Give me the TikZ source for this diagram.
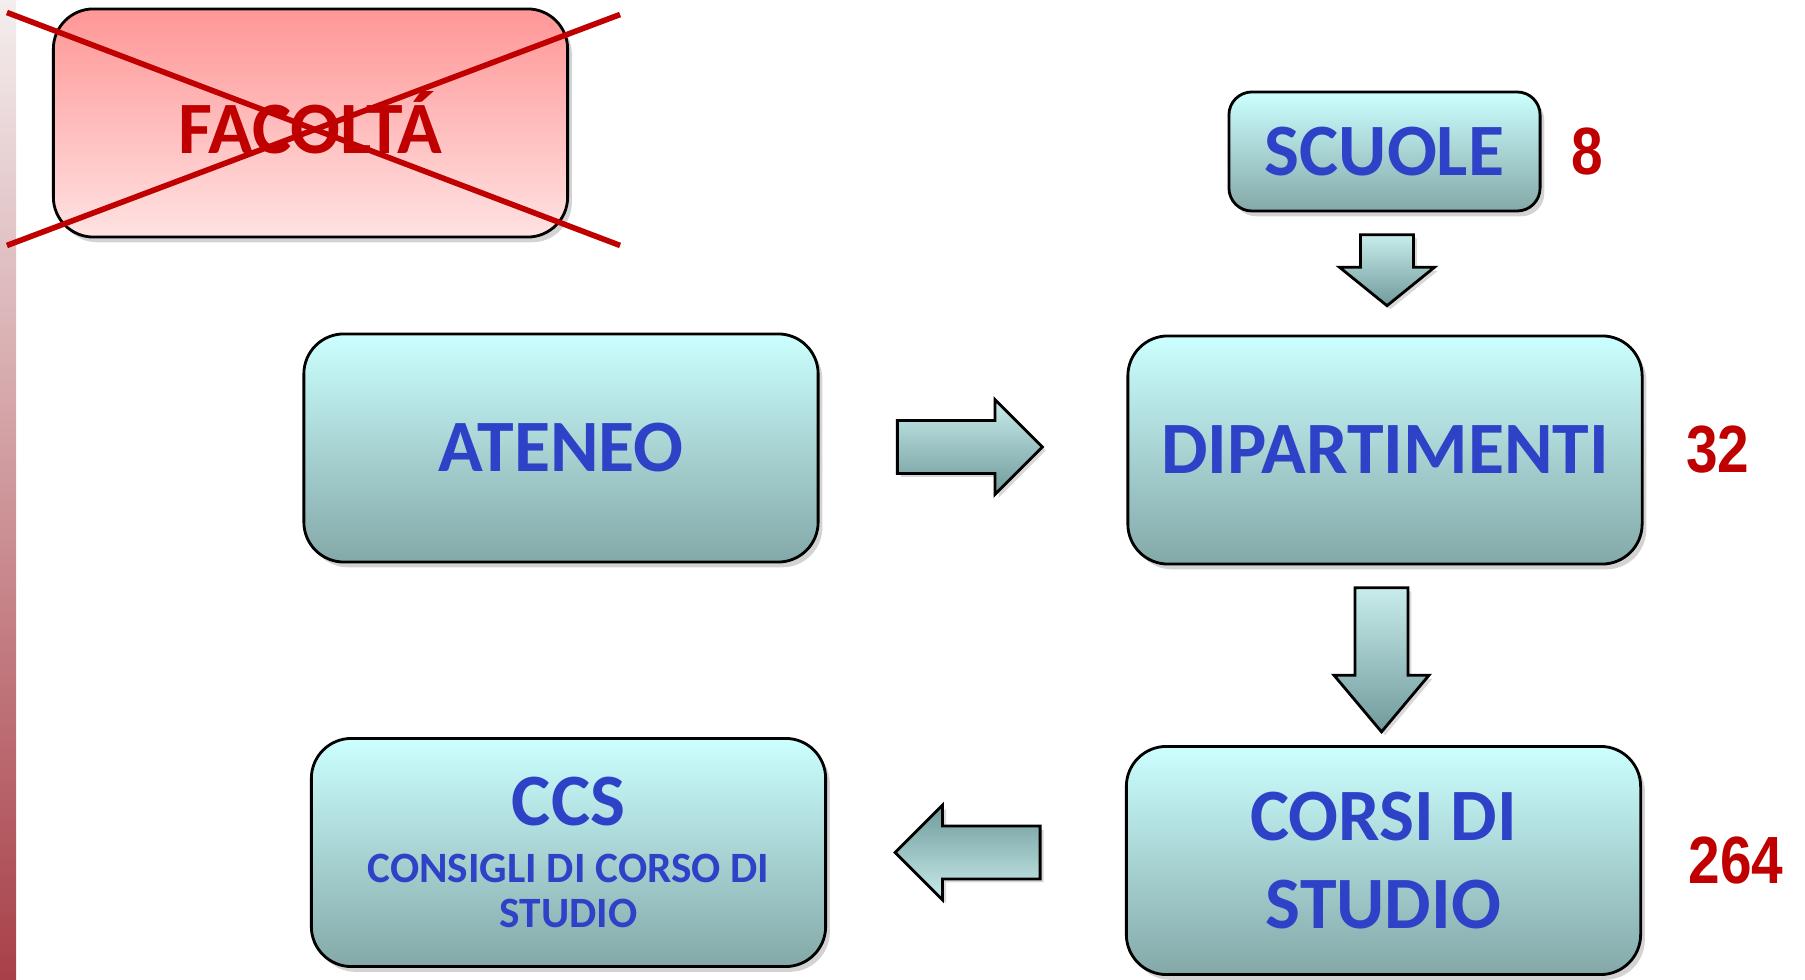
\documentclass[tikz,border=0pt]{standalone}
\usepackage{fontspec}
\setmainfont{Carlito}
\newfontfamily\numfont[FakeStretch=0.85]{Liberation Sans}
\usetikzlibrary{positioning, calc}
\usetikzlibrary{shapes.arrows}
\usetikzlibrary{shadows}
\definecolor{boxtop}{RGB}{204,255,255}
\definecolor{boxbottom}{RGB}{132,168,168}
\definecolor{oldtop}{RGB}{255,150,150}
\definecolor{oldbottom}{RGB}{255,226,226}
\definecolor{labelblue}{RGB}{46,66,200}
\definecolor{countred}{RGB}{192,0,0}
\definecolor{arrowtop}{RGB}{200,236,236}
\definecolor{arrowbottom}{RGB}{112,154,154}
\definecolor{stripetop}{RGB}{244,238,238}
\definecolor{stripebottom}{RGB}{168,64,72}
\tikzset{
	unit/.style={draw=black, line width=0.8pt, rectangle, rounded corners=0.4cm, minimum width=5.14cm, minimum height=2.28cm, top color=boxtop, bottom color=boxbottom, text=labelblue, align=center, font=\fontsize{21}{25}\selectfont\bfseries, drop shadow={shadow xshift=1.2pt, shadow yshift=-1.5pt, opacity=0.35}},
	oldunit/.style={unit, top color=oldtop, bottom color=oldbottom, text=countred},
	count/.style={text=countred, inner sep=0pt, font=\numfont\bfseries\fontsize{19}{22}\selectfont},
	% fat arrows between the boxes, placed by their tip
	blockarrow/.style={draw=black, line width=0.8pt, single arrow, single arrow head extend=0.21cm, single arrow tip angle=90, inner xsep=0pt, inner ysep=0.25cm, minimum height=1.45cm, anchor=tip, top color=arrowtop, bottom color=arrowbottom, drop shadow={shadow xshift=1pt, shadow yshift=-1pt, opacity=0.3}},
	strike/.style={countred, line width=1.6pt},
}

\begin{document}
\begin{tikzpicture}[x=0.01cm, y=-0.01cm]

\useasboundingbox (0,0) rectangle (1805,980);
\fill [top color=stripetop, bottom color=stripebottom] (0,0) rectangle (16,980);

\node (facolta) [oldunit] at (310.5,123) {FACOLTÁ};

\node (scuole) [unit, minimum width=3.11cm, minimum height=1.19cm, rounded corners=0.23cm] at (1384.5,151.5) {SCUOLE};
\node (n8) [count, right=0.29cm of scuole] {8};

\node (ateneo) [unit] at (561,448) {ATENEO};

\node (dip) [unit] at (1385,450) {DIPARTIMENTI};
\node (n32) [count, right=0.42cm of dip] {32};

\node (ccs) [unit] at (568.5,852.5) {CCS\\[-8.9pt]{\fontsize{12.3}{13}\selectfont CONSIGLI DI CORSO DI}\\[-12.2pt]{\fontsize{12.3}{13}\selectfont STUDIO}};

\node (corsi) [unit] at (1383.5,860.5) {CORSI DI\\STUDIO};
\node (n264) [count, right=0.46cm of corsi] {264};

\node (a1) [blockarrow, rotate=-90, minimum height=0.71cm, single arrow tip angle=102] at ($(dip.north)+(2,-27)$) {};
\node (a2) [blockarrow] at ($(dip.west)+(-82,-3)$) {};
\node (a3) [blockarrow, rotate=-90, minimum height=1.44cm, single arrow tip angle=80] at ($(corsi.north)+(-2,-11)$) {};
\node (a4) [blockarrow, rotate=180, top color=arrowbottom, bottom color=arrowtop] at ($(ccs.east)+(66,0)$) {};

\begin{scope}[strike]
	\draw ($(facolta.north west)+(-45,5)$) -- ($(facolta.south east)+(51,7)$);
	\draw ($(facolta.south west)+(-45,7)$) -- ($(facolta.north east)+(51,7)$);
\end{scope}
\end{tikzpicture}
\end{document}
